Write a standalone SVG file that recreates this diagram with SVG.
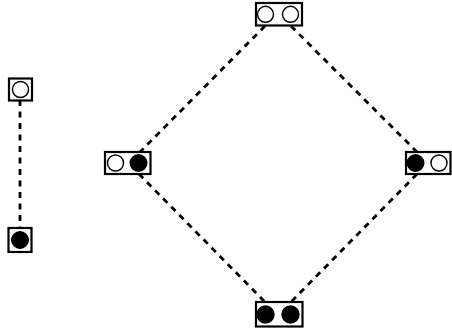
<svg xmlns="http://www.w3.org/2000/svg" width="452" height="336" viewBox="0 0 452 336">
<style>
.box{fill:#fff;stroke:#000;stroke-width:2.2}
.o{fill:#fff;stroke:#000;stroke-width:1.4}
.f{fill:#000;stroke:#000;stroke-width:1.4}
.e{stroke:#000;stroke-width:2.8;stroke-dasharray:6,5.5;fill:none}
</style>
<rect width="452" height="336" fill="#fff"/>
<g id="connectors">
<line class="e" x1="20" y1="100" x2="20" y2="228"/>
<line class="e" x1="265" y1="26" x2="140" y2="152"/>
<line class="e" x1="291" y1="26" x2="417" y2="152"/>
<line class="e" x1="139" y1="174" x2="265" y2="302"/>
<line class="e" x1="417" y1="174" x2="291" y2="302"/>
</g>
<g id="n1"><rect class="box" x="9" y="78.5" width="23" height="22"/><circle class="o" cx="20.5" cy="89.5" r="8"/></g>
<g id="n2"><rect class="box" x="8.5" y="228" width="23" height="24"/><circle class="f" cx="20" cy="240" r="8.3"/></g>
<g id="top"><rect class="box" x="256" y="3" width="46" height="22.5"/><circle class="o" cx="265.5" cy="14.3" r="8"/><circle class="o" cx="290.5" cy="14.3" r="8"/></g>
<g id="left"><rect class="box" x="105" y="152" width="45.5" height="22"/><circle class="o" cx="115.5" cy="163" r="8"/><circle class="f" cx="138.5" cy="163" r="8.3"/></g>
<g id="right"><rect class="box" x="406" y="152" width="44.5" height="22"/><circle class="f" cx="415.5" cy="163" r="8.3"/><circle class="o" cx="439" cy="163" r="8"/></g>
<g id="bottom"><rect class="box" x="256" y="302" width="46.5" height="24.5"/><circle class="f" cx="265.5" cy="314.5" r="8.5"/><circle class="f" cx="290.5" cy="314.5" r="8.5"/></g>
</svg>
